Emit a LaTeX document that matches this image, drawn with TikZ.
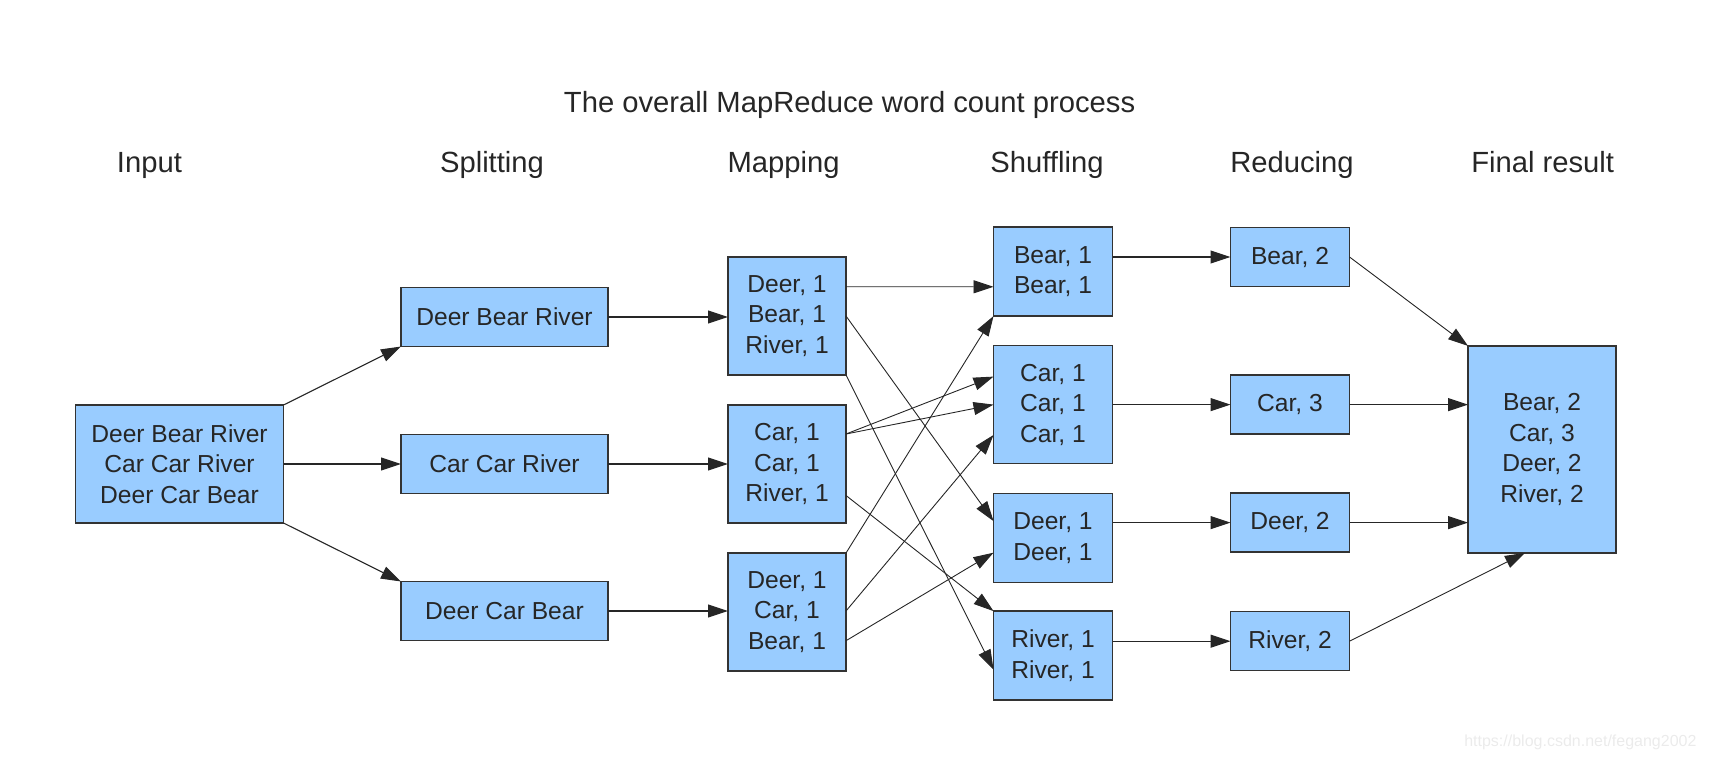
\documentclass[tikz,border=0pt]{standalone}
\usepackage{fontspec}
\setmainfont{Liberation Sans}
\usepackage{tikz}
\usetikzlibrary{positioning, calc, arrows.meta, shapes}
\usepackage{xcolor}
\definecolor{boxblue}{HTML}{99CCFF}
\definecolor{edgegray}{HTML}{333333}
\newcommand{\boxfont}{\fontsize{24.6}{30.5}\selectfont}
\newcommand{\headfont}{\fontsize{29.2}{34}\selectfont}
\tikzset{box/.style={draw=edgegray, fill=boxblue, line width=1.3pt, inner sep=0pt, outer sep=0pt, align=center, font=\boxfont, text=black!85}}
\tikzset{inbox/.style={box, minimum width=208pt, minimum height=118pt}}
\tikzset{splitbox/.style={box, minimum width=207pt, minimum height=59pt}}
\tikzset{mapbox/.style={box, minimum width=118pt, minimum height=118pt}}
\tikzset{shufbox/.style={box, minimum width=119pt, minimum height=89pt}}
\tikzset{redbox/.style={box, minimum width=119pt, minimum height=59pt}}
\tikzset{head/.style={anchor=base, font=\headfont, text=black!85}}
\tikzset{flow/.style={-{Triangle[length=20pt,width=13pt]}, line width=1.1pt, draw=black!85}}

\begin{document}
\begin{tikzpicture}[x=1pt, y=-1pt]
      \useasboundingbox (0,0) rectangle (1710,760);

      \node[head] (title) at (849.6,112.3) {The overall MapReduce word count process};
      \node[head] (hin) at (149.4,172.7) {Input};
      \node[head] (hsp) at (492,172.7) {Splitting};
      \node[head] (hmap) at (783.6,172.7) {Mapping};
      \node[head] (hshuf) at (1047,172.7) {Shuffling};
      \node[head] (hred) at (1292,172.7) {Reducing};
      \node[head] (hfin) at (1542.7,172.7) {Final result};

      % input and splitting
      \node[inbox] (i0) at (179.5,464) {Deer Bear River\\Car Car River\\Deer Car Bear};
      \node[splitbox, right=117.5pt of i0] (sp2) {Car Car River};
      \node[splitbox, above=88pt of sp2] (sp1) {Deer Bear River};
      \node[splitbox, below=88pt of sp2] (sp3) {Deer Car Bear};

      % mapping
      \node[mapbox, right=120pt of sp2] (m2) {Car, 1\\Car, 1\\River, 1};
      \node[mapbox, above=30pt of m2] (m1) {Deer, 1\\Bear, 1\\River, 1};
      \node[mapbox, below=30pt of m2] (m3) {Deer, 1\\Car, 1\\Bear, 1};

      % shuffling
      \node[shufbox, minimum height=118pt] (s2) at (1053,404.6) {Car, 1\\Car, 1\\Car, 1};
      \node[shufbox, above=29.5pt of s2] (s1) {Bear, 1\\Bear, 1};
      \node[shufbox, below=30pt of s2] (s3) {Deer, 1\\Deer, 1};
      \node[shufbox, below=28.5pt of s3] (s4) {River, 1\\River, 1};

      % reducing and result
      \node[redbox] (r1) at (1290,257) {Bear, 2};
      \node[redbox] (r2) at (1290,404.6) {Car, 3};
      \node[redbox] (r3) at (1290,522.6) {Deer, 2};
      \node[redbox] (r4) at (1290,641.2) {River, 2};
      \node[box, minimum width=148pt, minimum height=207pt] (fin) at (1542,449.4)
        {Bear, 2\\Car, 3\\Deer, 2\\River, 2};

      \draw[flow] (i0.north east) -- (sp1.south west);
      \draw[flow] (i0.east) -- (sp2.west);
      \draw[flow] (i0.south east) -- (sp3.north west);

      \draw[flow] (sp1.east) -- (m1.west |- sp1.east);
      \draw[flow] (sp2.east) -- (m2.west |- sp2.east);
      \draw[flow] (sp3.east) -- (m3.west |- sp3.east);

      \draw[flow, line width=0.9pt] ([yshift=29.3pt]m1.east) -- ([yshift=-15.2pt]s1.west);
      \draw[flow, line width=0.9pt] (m1.east) -- ([yshift=17pt]s3.west);
      \draw[flow, line width=0.9pt] (m1.south east) -- ([yshift=-14pt]s4.west);
      \draw[flow, line width=0.9pt] ([yshift=30pt]m2.east) -- ([yshift=28pt]s2.west);
      \draw[flow, line width=0.9pt] ([yshift=30pt]m2.east) -- (s2.west);
      \draw[flow, line width=0.9pt] ([yshift=-31.5pt]m2.east) -- (s4.north west);
      \draw[flow, line width=0.9pt] (m3.north east) -- (s1.south west);
      \draw[flow, line width=0.9pt] ([yshift=1pt]m3.east) -- ([yshift=-30.4pt]s2.west);
      \draw[flow, line width=0.9pt] ([yshift=-28.7pt]m3.east) -- ([yshift=-14.6pt]s3.west);

      \draw[flow] (s1.east |- r1.west) -- (r1.west);
      \draw[flow] (s2.east |- r2.west) -- (r2.west);
      \draw[flow] (s3.east |- r3.west) -- (r3.west);
      \draw[flow] (s4.east |- r4.west) -- (r4.west);

      \draw[flow, line width=0.9pt] (r1.east) -- (fin.north west);
      \draw[flow] (r2.east) -- (fin.west |- r2.east);
      \draw[flow] (r3.east) -- (fin.west |- r3.east);
      \draw[flow, line width=0.9pt] (r4.east) -- ([xshift=-17pt]fin.south);

      \node[anchor=base east, font=\fontsize{16}{18}\selectfont, text=black!8] (mark) at (1700,746)
        {https://blog.csdn.net/fegang2002};
    \end{tikzpicture}
\end{document}
